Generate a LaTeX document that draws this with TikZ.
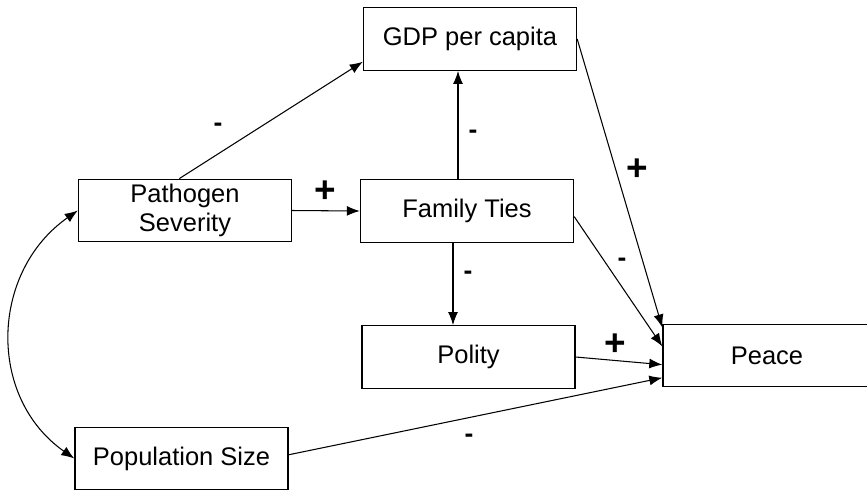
\documentclass[tikz,border=0pt]{standalone}
\usepackage{fontspec}
\setmainfont{Liberation Sans}
\usetikzlibrary{arrows.meta}
\begin{document}
\begin{tikzpicture}[
    box/.style={draw, line width=0.8pt, minimum width=4.26cm, minimum height=1.25cm,
      inner sep=0pt, align=center, font=\fontsize{14.5}{16.5}\selectfont},
    sign/.style={inner sep=0pt, font=\fontsize{15}{18}\selectfont\bfseries},
    plus/.style={inner sep=0pt, font=\fontsize{21}{24}\selectfont\bfseries},
    link/.style={line width=0.6pt, -{Latex[length=0.26cm,width=0.2cm]}}]
  \path[use as bounding box] (0,0) rectangle (17.34,-9.86);
  \node[box] at (9.40,-0.78) (gdp) {GDP per capita};
  \node[box] at (3.70,-4.21) (path) {Pathogen\\Severity};
  \node[box] at (9.34,-4.22) (fam) {Family Ties};
  \node[box] at (9.37,-7.14) (pol) {Polity};
  \node[box, minimum width=4.16cm] at (15.34,-7.11) (peace) {Peace};
  \node[box] at (3.63,-9.17) (pop) {Population Size};
  % signs
  \node[sign] at (4.36,-2.54) (s1) {-};
  \node[plus] at (6.50,-3.84) (s2) {+};
  \node[sign] at (9.46,-2.68) (s3) {-};
  \node[sign] at (9.36,-5.50) (s4) {-};
  \node[plus] at (12.74,-3.40) (s5) {+};
  \node[sign] at (12.44,-5.24) (s6) {-};
  \node[plus] at (12.30,-6.90) (s7) {+};
  \node[sign] at (9.38,-8.76) (s8) {-};
  % links
  \path[draw,link] (path.100) -- (gdp.192);
  \path[draw,link] (path.east) -- (fam.west);
  \path[draw,link] ([xshift=-0.18cm]fam.north) -- ([xshift=-0.18cm]fam.north |- gdp.south);
  \path[draw,link] ([xshift=-0.28cm]fam.south) -- ([xshift=-0.28cm]fam.south |- pol.north);
  \path[draw,link] (gdp.east) -- (peace.165);
  \path[draw,link] (fam.-3) -- (peace.175);
  \path[draw,link] (pol.east) -- (peace.185);
  \path[draw,link] (pop.2) -- (peace.192);
  \path[draw,line width=0.6pt,{Latex[length=0.26cm,width=0.2cm]}-{Latex[length=0.26cm,width=0.2cm]}]
    (path.west) to[out=215, in=145, looseness=1.1] (pop.west);
\end{tikzpicture}
\end{document}
